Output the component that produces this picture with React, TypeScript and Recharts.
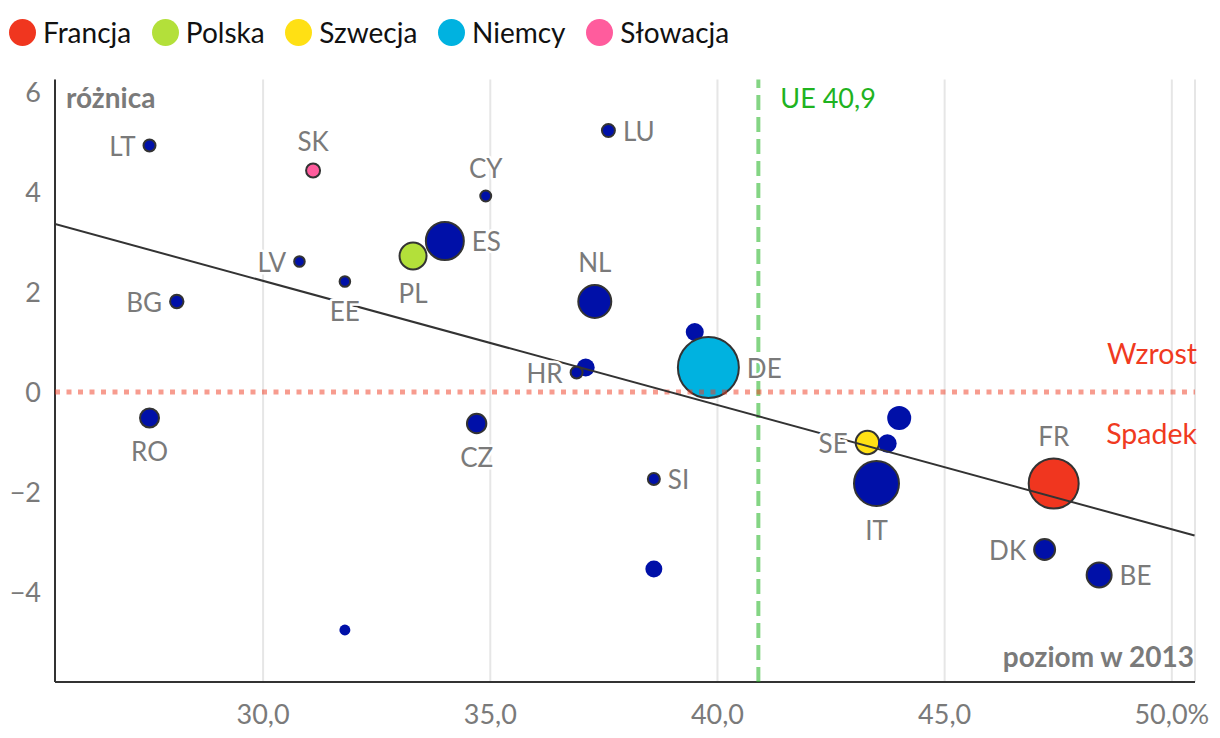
import React from "react";
import {
  CartesianGrid,
  ReferenceLine,
  Scatter,
  ScatterChart,
  XAxis,
  YAxis,
  ZAxis,
} from "recharts";

const FONT = "Lato, 'Open Sans', sans-serif";
const GRAY = "#7a7a7a";
const BLUE = "#0010a8";

// kraje podpisane na wykresie
const codes = ["LT", "SK", "CY", "LU", "ES", "PL", "LV", "EE", "BG", "NL", "HR", "DE", "RO", "CZ", "SI", "SE", "IT", "FR", "DK", "BE"];
const level2013 = [27.5, 31.1, 34.9, 37.6, 34.0, 33.3, 30.8, 31.8, 28.1, 37.3, 36.9, 39.8, 27.5, 34.7, 38.6, 43.3, 43.5, 47.4, 47.2, 48.4];
const change = [4.93, 4.43, 3.92, 5.23, 3.02, 2.72, 2.61, 2.21, 1.81, 1.81, 0.39, 0.49, -0.52, -0.63, -1.74, -1.01, -1.83, -1.83, -3.15, -3.66];
const weight = [36, 49, 30, 42, 361, 182, 28, 28, 45, 272, 36, 930, 90, 94, 36, 137, 506, 625, 110, 156];

// kraje bez podpisu
const otherLevel = [37.1, 39.5, 43.74, 44.0, 38.6, 31.8];
const otherChange = [0.49, 1.2, -1.03, -0.52, -3.54, -4.76];
const otherWeight = [81, 81, 86, 144, 72, 30];

// linia trendu
const trendLevel = [25.42, 50.5];
const trendChange = [3.36, -2.87];

const legendNames = ["Francja", "Polska", "Szwecja", "Niemcy", "Słowacja"];
const legendCodes = ["FR", "PL", "SE", "DE", "SK"];
const legendColors = ["#f0361f", "#b3e03a", "#ffe014", "#00b2e0", "#ff5c9d"];

const xTicks = [30, 35, 40, 45, 50];
const yTicks = [-4, -2, 0, 2, 4, 6];
const euAverage = 40.9;

const labelSide: Record<string, "l" | "r" | "t" | "b"> = {
  LT: "l", SK: "t", CY: "t", LU: "r", ES: "r", PL: "b", LV: "l", EE: "b", BG: "l", NL: "t",
  HR: "l", DE: "r", RO: "b", CZ: "b", SI: "r", SE: "l", IT: "b", FR: "t", DK: "l", BE: "r",
};

const labelled = codes.map((code, i) => ({ code, x: level2013[i], y: change[i], z: weight[i] }));
const others = otherLevel.map((x, i) => ({ x, y: otherChange[i], z: otherWeight[i] }));
const trend = trendLevel.map((x, i) => ({ x, y: trendChange[i] }));

const colorOf = (code: string) => legendColors[legendCodes.indexOf(code)];
const plainBlue = labelled.filter((d) => !legendCodes.includes(d.code));
const onlyCountry = (code: string) => labelled.filter((d) => d.code === code);

const bubble = (fill: string, stroked: boolean) => (props: any) => (
  <circle
    cx={props.cx}
    cy={props.cy}
    r={props.width / 2}
    fill={fill}
    stroke={stroked ? "#333" : "none"}
    strokeWidth={2}
  />
);

const CountryLabel = (props: any) => {
  const { cx, cy, width, payload } = props;
  const r = width / 2 + 1;
  const side = labelSide[payload.code];
  let x = cx;
  let y = cy + 10;
  let anchor: "start" | "middle" | "end" = "middle";
  if (side === "l") {
    x = cx - r - 7;
    anchor = "end";
  } else if (side === "r") {
    x = cx + r + 7;
    anchor = "start";
  } else if (side === "t") {
    y = cy - r - 12;
  } else {
    y = cy + r + 33;
  }
  return (
    <text
      x={x}
      y={y}
      textAnchor={anchor}
      fontSize={26}
      fontFamily={FONT}
      fill={GRAY}
      stroke="#fff"
      strokeWidth={5}
      strokeLinejoin="round"
      paintOrder="stroke"
    >
      {payload.code}
    </text>
  );
};

const formatX = (v: number) => (v === 50 ? "50,0%" : v.toFixed(1).replace(".", ","));
const formatY = (v: number) => (v < 0 ? `−${Math.abs(v)}` : `${v}`);

function Legend() {
  return (
    <div style={{ position: "absolute", left: 1, top: 10, display: "flex", alignItems: "center" }}>
      {legendNames.map((name, i) => (
        <div key={name} style={{ display: "flex", alignItems: "center", marginRight: 20.7 }}>
          <span
            style={{
              width: 27,
              height: 27,
              borderRadius: "50%",
              background: legendColors[i],
              display: "inline-block",
            }}
          />
          <span style={{ marginLeft: 7, fontSize: 28, lineHeight: "28px", color: "#111" }}>{name}</span>
        </div>
      ))}
    </div>
  );
}

export default function App() {
  const tickStyle = { fill: GRAY, fontSize: 27, fontFamily: FONT };
  return (
    <div style={{ position: "relative", width: 1212, height: 722, fontFamily: FONT }}>
      <Legend />
      <ScatterChart
        width={1212}
        height={722}
        margin={{ top: 71.5, right: 25, bottom: 8, left: 0 }}
      >
        <CartesianGrid horizontal={false} stroke="#e6e6e6" strokeWidth={2} />
        <XAxis
          type="number"
          dataKey="x"
          domain={[25.42, 50.51]}
          ticks={xTicks}
          interval={0}
          allowDataOverflow
          tickFormatter={formatX}
          tick={tickStyle}
          tickLine={false}
          tickSize={0}
          tickMargin={23}
          height={40}
          axisLine={{ stroke: "#333", strokeWidth: 2 }}
          label={(p: any) => (
            <text
              x={p.viewBox.x + p.viewBox.width - 1}
              y={p.viewBox.y - 15}
              textAnchor="end"
              fontSize={28}
              fontWeight={700}
              fontFamily={FONT}
              fill={GRAY}
            >
              poziom w 2013
            </text>
          )}
        />
        <YAxis
          type="number"
          dataKey="y"
          domain={[-5.8, 6.25]}
          ticks={yTicks}
          interval={0}
          allowDataOverflow
          tickFormatter={formatY}
          tick={tickStyle}
          tickLine={false}
          tickSize={0}
          tickMargin={14}
          width={47}
          axisLine={{ stroke: "#333", strokeWidth: 2 }}
          label={(p: any) => (
            <text
              x={p.viewBox.x + p.viewBox.width + 11}
              y={p.viewBox.y + 28}
              fontSize={28}
              fontWeight={700}
              fontFamily={FONT}
              fill={GRAY}
            >
              różnica
            </text>
          )}
        />
        <ZAxis type="number" dataKey="z" domain={[0, 1000]} range={[0, 1000 * Math.PI]} />

        <Scatter data={onlyCountry("PL")} shape={bubble(colorOf("PL"), true)} isAnimationActive={false} />
        <Scatter data={onlyCountry("SE")} shape={bubble(colorOf("SE"), true)} isAnimationActive={false} />
        <Scatter data={others} shape={bubble(BLUE, false)} isAnimationActive={false} />
        <Scatter data={plainBlue} shape={bubble(BLUE, true)} isAnimationActive={false} />
        <Scatter data={onlyCountry("DE")} shape={bubble(colorOf("DE"), true)} isAnimationActive={false} />
        <Scatter data={onlyCountry("FR")} shape={bubble(colorOf("FR"), true)} isAnimationActive={false} />
        <Scatter data={onlyCountry("SK")} shape={bubble(colorOf("SK"), true)} isAnimationActive={false} />

        <ReferenceLine
          x={euAverage}
          stroke="#1fb31f"
          strokeOpacity={0.55}
          strokeWidth={4}
          strokeDasharray="15 7"
          zIndex={610}
          label={(p: any) => (
            <text x={p.viewBox.x + 22} y={p.viewBox.y + 28} fontSize={27} fontFamily={FONT} fill="#1fb31f">
              UE 40,9
            </text>
          )}
        />
        <ReferenceLine
          y={0}
          stroke="#f03a1f"
          strokeOpacity={0.5}
          strokeWidth={5}
          strokeDasharray="5 6.5"
          zIndex={610}
          label={(p: any) => (
            <g>
              <text
                x={p.viewBox.x + p.viewBox.width + 2}
                y={p.viewBox.y - 28}
                textAnchor="end"
                fontSize={28.5}
                fontFamily={FONT}
                fill="#f03a1f"
              >
                Wzrost
              </text>
              <text
                x={p.viewBox.x + p.viewBox.width + 2}
                y={p.viewBox.y + 52}
                textAnchor="end"
                fontSize={28.5}
                fontFamily={FONT}
                fill="#f03a1f"
              >
                Spadek
              </text>
            </g>
          )}
        />

        <Scatter
          data={trend}
          line={{ stroke: "#333", strokeWidth: 2 }}
          shape={() => <g />}
          zIndex={620}
          isAnimationActive={false}
        />
        <Scatter data={labelled} shape={CountryLabel} zIndex={630} isAnimationActive={false} />
      </ScatterChart>
    </div>
  );
}
